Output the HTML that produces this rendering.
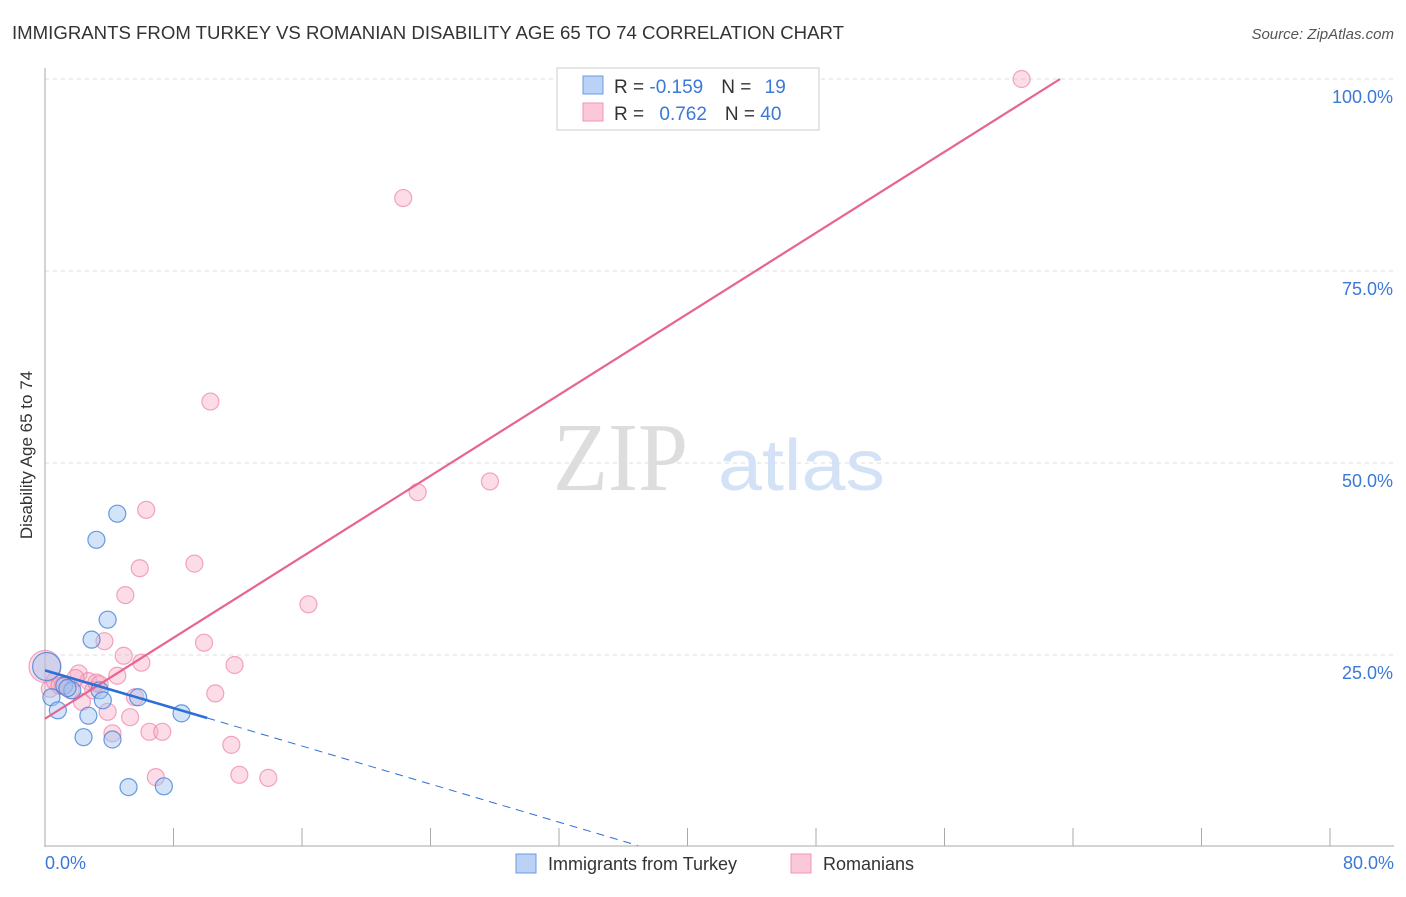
<!DOCTYPE html>
<html><head><meta charset="utf-8"><style>
body{margin:0;background:#fff;font-family:"Liberation Sans",sans-serif}
</style></head><body>
<svg id="c" width="1406" height="892" xmlns="http://www.w3.org/2000/svg" font-family="Liberation Sans, sans-serif">
<text x="12" y="39" font-size="18" fill="#333" textLength="832" lengthAdjust="spacingAndGlyphs">IMMIGRANTS FROM TURKEY VS ROMANIAN DISABILITY AGE 65 TO 74 CORRELATION CHART</text>
<text x="1394" y="39" font-size="15" fill="#555" text-anchor="end" font-style="italic">Source: ZipAtlas.com</text>
<text x="32" y="455" font-size="17" fill="#333" text-anchor="middle" transform="rotate(-90 32 455)">Disability Age 65 to 74</text>
<g id="grid"></g><g id="ticks"></g>
<text x="553" y="490" font-size="98" fill="#ddd" textLength="135" lengthAdjust="spacingAndGlyphs" style="font-family:'Liberation Serif',serif">ZIP</text>
<text x="718" y="490" font-size="72" fill="#d3e2f6" textLength="167" lengthAdjust="spacingAndGlyphs">atlas</text>
<g id="pts"></g><g id="lines"></g>
<rect x="557" y="68" width="262" height="62" fill="#fff" stroke="#ccc"/>
<rect x="583" y="76" width="20" height="18" fill="#b9d2f5" stroke="#6b9be0"/>
<rect x="583" y="103" width="20" height="18" fill="#fcc8d8" stroke="#ee97b2"/>
<text x="614" y="93" font-size="19" fill="#333">R = <tspan fill="#3b78d8">-0.159</tspan><tspan dx="18">N = </tspan><tspan fill="#3b78d8" dx="8">19</tspan></text>
<text x="614" y="120" font-size="19" fill="#333">R = <tspan fill="#3b78d8" dx="10">0.762</tspan><tspan dx="18">N = </tspan><tspan fill="#3b78d8">40</tspan></text>
<text x="45" y="869" font-size="18" fill="#3b78d8">0.0%</text>
<text x="1394" y="869" font-size="18" fill="#3b78d8" text-anchor="end">80.0%</text>
<rect x="516" y="854" width="20" height="19" fill="#b9d2f5" stroke="#6b9be0"/>
<text x="548" y="870" font-size="18" fill="#333">Immigrants from Turkey</text>
<rect x="791" y="854" width="20" height="19" fill="#fcc8d8" stroke="#ee97b2"/>
<text x="823" y="870" font-size="18" fill="#333">Romanians</text>
</svg>
<script>
const yTicks=[25,50,75,100];
const yTickLabels=["25.0%","50.0%","75.0%","100.0%"];
const xTicks=[0,8,16,24,32,40,48,56,64,72,80];
const turkeyX=[0.1,0.4,0.8,1.2,1.7,2.4,2.7,2.9,3.2,3.4,3.6,3.9,4.2,4.5,5.2,5.8,7.4,8.5,1.4];
const turkeyY=[23.5,19.5,17.8,21,20.4,14.3,17.1,27,40,20.4,19.1,29.6,14,43.4,7.8,19.5,7.9,17.4,20.7];
const romX=[0,0.3,0.6,1.1,1.6,2.1,2.3,2.7,3,3.2,3.7,3.9,4.2,4.5,4.9,5,5.3,5.6,5.9,6.0,6.3,6.5,6.9,7.3,9.3,9.9,10.3,10.6,11.6,11.8,12.1,13.9,16.4,22.3,23.2,27.7,60.8,0.9,1.9,3.4];
const romY=[23.5,20.6,21.6,21,20.4,22.6,18.9,21.6,20.4,21.4,26.8,17.6,14.8,22.3,24.9,32.8,16.9,19.5,36.3,24,43.9,15,9.1,15,36.9,26.6,58,20,13.3,23.7,9.4,9,31.6,84.5,46.2,47.6,100,21,22,21.2];
const romBig=[0];const turkBig=[0];
const X=v=>45+v*16.0625, Y=v=>847-v*7.68;
const NS="http://www.w3.org/2000/svg";
function mk(t,a,p){const e=document.createElementNS(NS,t);for(const k in a)e.setAttribute(k,a[k]);document.getElementById(p).appendChild(e);return e;}
yTicks.forEach((t,i)=>{
 const l=mk('line',{x1:45,x2:1394,y1:Y(t),y2:Y(t),stroke:'#ddd','stroke-dasharray':'4 4'},'grid');
 
 
 const tx=mk('text',{x:1393,y:Y(t)+24,'font-size':18,fill:'#3b78d8','text-anchor':'end'},'grid');
 tx.textContent=yTickLabels[i];
 
 
});
const ax=mk('line',{x1:45,x2:45,y1:68,y2:847,stroke:'#aaa'},'ticks');


const bx=mk('line',{x1:45,x2:1394,y1:846,y2:846,stroke:'#aaa'},'ticks');


xTicks.forEach(t=>{const l=mk('line',{x1:X(t),x2:X(t),y1:828,y2:846,stroke:'#aaa'},'ticks');
 
 });
romX.forEach((x,i)=>{const c=mk('circle',{cx:X(x),cy:Y(romY[i]),r:romBig.includes(i)?16:8.5,fill:'rgba(248,170,195,0.4)',stroke:'rgba(236,130,165,0.7)','stroke-width':1.2},'pts');
 
 });
turkeyX.forEach((x,i)=>{const c=mk('circle',{cx:X(x),cy:Y(turkeyY[i]),r:turkBig.includes(i)?14:8.5,fill:'rgba(160,195,240,0.45)',stroke:'rgba(70,130,220,0.8)','stroke-width':1.2},'pts');
 
 });
const pl=mk('line',{x1:X(0),y1:Y(16.7),x2:X(63.2),y2:Y(100),stroke:'#e8638f','stroke-width':2.2},'lines');


const bl=mk('line',{x1:X(0),y1:Y(23),x2:X(10.1),y2:Y(16.8),stroke:'#2c6fd6','stroke-width':2.6},'lines');


const bd=mk('line',{x1:X(10.1),y1:Y(16.8),x2:X(36.9),y2:Y(0.2),stroke:'#2c6fd6','stroke-width':1,'stroke-dasharray':'8 6'},'lines');


</script>
</body></html>
